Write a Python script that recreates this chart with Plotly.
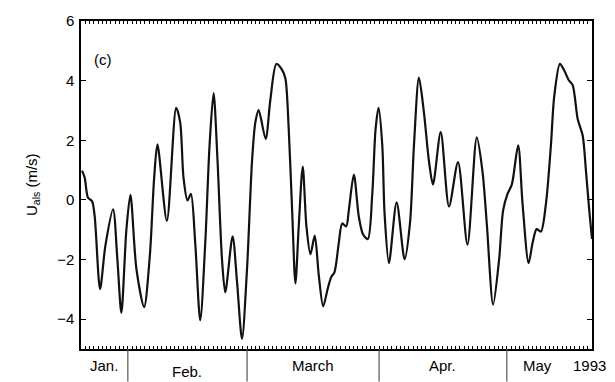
import plotly.graph_objects as go

# Days counted from 21 Jan 1993 (day 0) to 21 May 1993 (day 120)
days = [0.24, 0.87, 1.65, 2.59, 3.22, 4.47, 5.72, 7.53, 8.54, 9.48,
        10.66, 11.6, 13.01, 14.82, 16.16, 17.18, 17.95, 20.16, 22.35, 23.29,
        24.07, 25.01, 25.81, 26.82, 28.0, 29.18, 30.19, 31.13, 32.07, 33.11,
        33.88, 35.6, 36.64, 37.81, 38.99, 40.16, 40.94, 41.72, 43.36, 44.47,
        45.88, 47.22, 48.0, 48.78, 49.58, 50.35, 51.13, 52.07, 52.94, 53.88,
        54.89, 55.84, 56.87, 57.95, 58.75, 59.53, 60.54, 61.34, 62.28, 62.89,
        64.07, 65.25, 66.28, 67.36, 68.4, 69.18, 69.88, 70.75, 71.29, 72.31,
        74.12, 76.0, 77.25, 78.19, 79.36, 80.54, 81.72, 82.66, 84.47, 86.42,
        88.54, 90.75, 92.94, 94.28, 95.29, 96.78, 98.19, 99.13, 100.16, 101.18,
        102.66, 103.69, 105.11, 106.05, 106.99, 108.0, 109.18, 110.35, 111.13, 112.47,
        113.48, 114.52, 115.46, 116.64, 117.81, 118.59, 119.36, 120.0]
u_als = [0.98, 0.74, 0.07, -0.04, -0.56, -2.99, -1.54, -0.32, -1.99, -3.79,
         -1.0, 0.17, -2.31, -3.59, -1.88, 0.74, 1.86, -0.70, 3.09, 2.6,
         0.75, -0.02, 0.2, -1.44, -4.04, -1.44, 1.83, 3.58, 1.29, -1.99,
         -3.1, -1.22, -2.75, -4.66, -2.31, 1.29, 2.6, 3.01, 2.05, 3.36,
         4.56, 4.36, 4.07, 2.38, -0.35, -2.8, -0.89, 1.12, -0.89, -1.82,
         -1.2, -2.53, -3.57, -2.97, -2.59, -2.42, -1.44, -0.79, -0.89, -0.35,
         0.85, -0.57, -1.17, -1.31, 0.2, 2.38, 3.09, 1.83, -0.46, -2.12,
         -0.08, -1.99, -0.79, 1.83, 4.1, 2.92, 1.29, 0.52, 2.27, -0.22,
         1.27, -1.5, 2.1, 0.96, -0.79, -3.51, -1.99, -0.35, 0.2, 0.52,
         1.83, -0.13, -2.12, -1.44, -0.98, -1.06, -0.13, 1.83, 3.47, 4.56,
         4.34, 4.02, 3.85, 2.71, 2.16, 0.96, -0.35, -1.31]

month_labels = ["Jan.", "Feb.", "March", "Apr.", "May"]
month_starts = [0, 11, 39, 70, 100]   # day index of first shown day of each month
month_ends = [11, 39, 70, 100, 120]
year_label = "1993"
y_ticks = [-4, -2, 0, 2, 4, 6]

fig = go.Figure()
fig.add_trace(go.Scatter(x=days, y=u_als, mode="lines",
                         line=dict(color="#111111", width=2.2, shape="spline", smoothing=0.8),
                         showlegend=False, hoverinfo="skip"))

W, H = 615, 382
L, R, T, B = 81, 23, 15, 33
ph = H - T - B

fig.update_layout(
    width=W, height=H,
    margin=dict(l=L, r=R, t=T, b=B),
    paper_bgcolor="white", plot_bgcolor="white",
    font=dict(family="Liberation Sans, Arial, sans-serif", size=15, color="black"),
    xaxis=dict(range=[0, 120], tick0=0, dtick=1, ticks="inside", ticklen=3,
               tickwidth=1, tickcolor="black", showticklabels=False,
               showgrid=False, zeroline=False, showline=True, linecolor="black",
               linewidth=1.5, mirror="ticks"),
    yaxis=dict(range=[-5, 6], tickvals=y_ticks, ticks="inside", ticklen=5,
               tickwidth=1, tickcolor="black", showgrid=False, zeroline=False,
               showline=True, linecolor="black", linewidth=1.5, mirror="ticks",
               tickfont=dict(size=15), ticklabelstandoff=2),
)

# month separators below axis
for b in month_starts[1:]:
    fig.add_shape(type="line", xref="x", yref="paper", x0=b, x1=b,
                  y0=0, y1=-B / ph, line=dict(color="#555555", width=1.2))

# month labels
label_y = {"Feb.": 372}
for name, s, e in zip(month_labels, month_starts, month_ends):
    xc = (s + e) / 2
    if name == "May":
        xc = s + 7.3
    ypx = label_y.get(name, 366)
    fig.add_annotation(text=name, x=xc, xref="x", y=(H - B - ypx) / ph, yref="paper",
                       showarrow=False, xanchor="center", yanchor="middle",
                       font=dict(size=15))
fig.add_annotation(text=year_label, x=119.3, xref="x", y=(H - B - 366) / ph, yref="paper",
                   showarrow=False, xanchor="center", yanchor="middle", font=dict(size=15))

# panel label
fig.add_annotation(text="(c)", x=(103 - L) / (W - L - R), xref="paper",
                   y=(H - B - 54) / ph, yref="paper", showarrow=False,
                   xanchor="center", yanchor="middle", font=dict(size=15))

# y-axis title
fig.add_annotation(text="U<sub>als</sub> (m/s)", x=(32 - L) / (W - L - R), xref="paper",
                   y=(H - B - 182) / ph, yref="paper", showarrow=False, textangle=-90,
                   xanchor="center", yanchor="middle", font=dict(size=15))

fig.write_html("out.html")
